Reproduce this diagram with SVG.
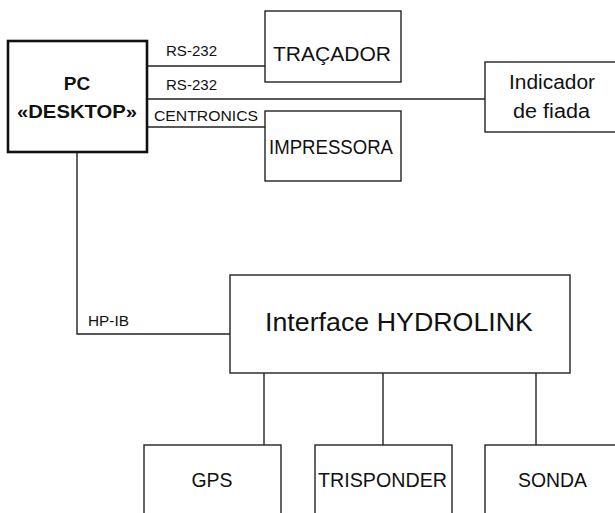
<svg xmlns="http://www.w3.org/2000/svg" width="615" height="513" viewBox="0 0 615 513">
<style>
.box{fill:#fff;stroke:#222;stroke-width:1.4}
.thick{fill:#fff;stroke:#111;stroke-width:2.6}
.ln{fill:none;stroke:#222;stroke-width:1.4}
text{font-family:"Liberation Sans",Arial,sans-serif;fill:#111}
.lbl{font-size:14px}
.big{font-size:20px}
.bold{font-size:19px;font-weight:bold;text-anchor:middle}
</style>
<rect width="615" height="513" fill="#fff"/>
<g id="connectors">
<line class="ln" x1="147" y1="66" x2="265" y2="66"/>
<line class="ln" x1="147" y1="99" x2="485" y2="99"/>
<line class="ln" x1="147" y1="127" x2="265" y2="127"/>
<polyline class="ln" points="77,152 77,334 230,334"/>
<line class="ln" x1="264" y1="373" x2="264" y2="445"/>
<line class="ln" x1="383" y1="373" x2="383" y2="445"/>
<line class="ln" x1="536" y1="373" x2="536" y2="445"/>
<text class="lbl" x="166" y="56" textLength="51" lengthAdjust="spacingAndGlyphs">RS-232</text>
<text class="lbl" x="166" y="90" textLength="51" lengthAdjust="spacingAndGlyphs">RS-232</text>
<text class="lbl" x="154" y="121" textLength="104" lengthAdjust="spacingAndGlyphs">CENTRONICS</text>
<text class="lbl" x="88" y="326" textLength="41" lengthAdjust="spacingAndGlyphs">HP-IB</text>
</g>
<g id="pc">
<rect class="thick" x="8" y="41" width="139" height="111"/>
<text class="bold" x="77" y="90">PC</text>
<text class="bold" x="77" y="118" textLength="120" lengthAdjust="spacingAndGlyphs">«DESKTOP»</text>
</g>
<g id="tracador">
<rect class="box" x="265" y="11" width="136" height="71"/>
<text class="big" x="273" y="61" textLength="118" lengthAdjust="spacingAndGlyphs">TRAÇADOR</text>
</g>
<g id="impressora">
<rect class="box" x="265" y="111" width="136" height="70"/>
<text class="big" x="269" y="154" textLength="124" lengthAdjust="spacingAndGlyphs">IMPRESSORA</text>
</g>
<g id="indicador">
<rect class="box" x="485" y="62" width="135" height="70"/>
<text class="big" x="509" y="89" textLength="86" lengthAdjust="spacingAndGlyphs">Indicador</text>
<text class="big" x="513" y="118" textLength="77" lengthAdjust="spacingAndGlyphs">de fiada</text>
</g>
<g id="hydrolink">
<rect class="box" x="230" y="275" width="340" height="98"/>
<text x="265" y="331" font-size="25" textLength="268" lengthAdjust="spacingAndGlyphs">Interface HYDROLINK</text>
</g>
<g id="gps">
<rect class="box" x="144" y="445" width="137" height="80"/>
<text class="big" x="212" y="487" text-anchor="middle" textLength="41" lengthAdjust="spacingAndGlyphs">GPS</text>
</g>
<g id="trisponder">
<rect class="box" x="315" y="445" width="137" height="80"/>
<text class="big" x="318" y="487" textLength="129" lengthAdjust="spacingAndGlyphs">TRISPONDER</text>
</g>
<g id="sonda">
<rect class="box" x="485" y="445" width="135" height="80"/>
<text class="big" x="518" y="487" textLength="69" lengthAdjust="spacingAndGlyphs">SONDA</text>
</g>
</svg>
